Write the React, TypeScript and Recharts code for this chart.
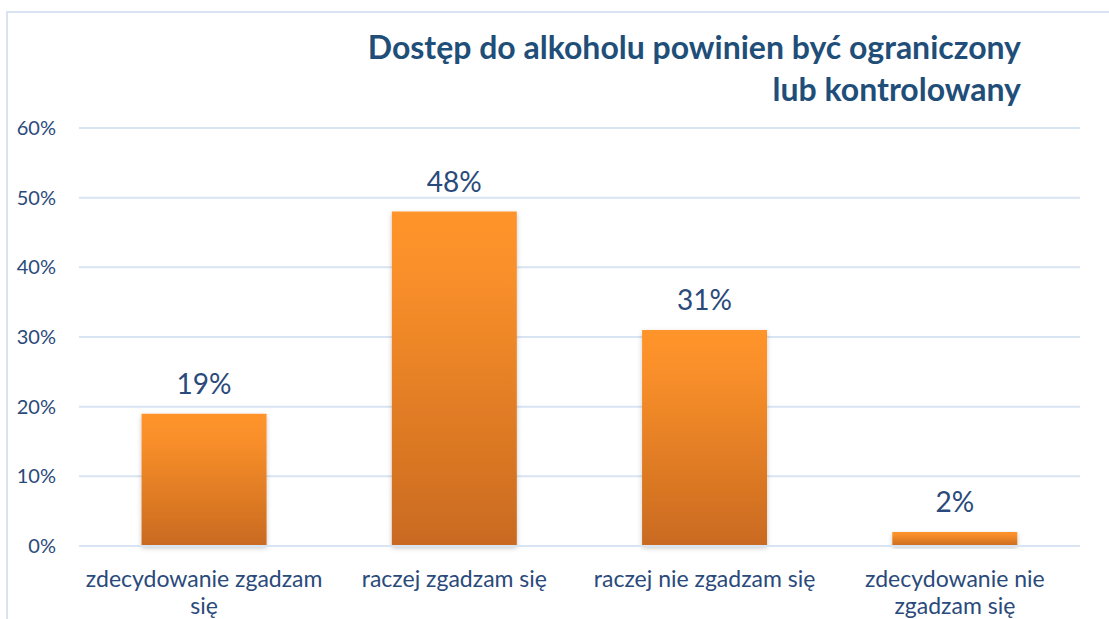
import React from "react";
import { BarChart, Bar, XAxis, YAxis, CartesianGrid, LabelList } from "recharts";

const categories = [
  "zdecydowanie zgadzam się",
  "raczej zgadzam się",
  "raczej nie zgadzam się",
  "zdecydowanie nie zgadzam się",
];
const values = [19, 48, 31, 2];
const yTicks = [0, 10, 20, 30, 40, 50, 60];
const titleLines = ["Dostęp do alkoholu powinien być ograniczony", "lub kontrolowany"];

const data = categories.map((c, i) => ({ name: c, value: values[i] }));

const FONT = "Lato, 'Noto Sans', sans-serif";
const TEXT = "#2A4A7B";
const GRID = "#D9E4F2";

function wrap(s: string, max: number): string[] {
  const words = s.split(" ");
  const lines: string[] = [];
  let cur = "";
  for (const w of words) {
    const next = cur ? cur + " " + w : w;
    if (next.length > max && cur) {
      lines.push(cur);
      cur = w;
    } else {
      cur = next;
    }
  }
  if (cur) lines.push(cur);
  return lines;
}

const XTick = (props: any) => {
  const { x, y, payload } = props;
  const lines = wrap(String(payload.value), 22);
  return (
    <text x={x} y={y} textAnchor="middle" fontSize={23} fontFamily={FONT} fill={TEXT}>
      {lines.map((l, i) => (
        <tspan key={i} x={x} dy={i === 0 ? 33 : 27}>
          {l}
        </tspan>
      ))}
    </text>
  );
};

export default function App() {
  return (
    <div style={{ position: "absolute", left: 0, top: 0, width: 1109, height: 619, background: "#fff", overflow: "hidden" }}>
      <div
        style={{
          position: "absolute",
          left: 6,
          top: 11,
          width: 1200,
          height: 700,
          borderLeft: `2px solid ${GRID}`,
          borderTop: `2px solid ${GRID}`,
        }}
      />
      <div
        style={{
          position: "absolute",
          right: 88,
          top: 26,
          textAlign: "right",
          fontFamily: FONT,
          fontWeight: 700,
          fontSize: 32,
          lineHeight: "42px",
          color: "#1F4E79",
          whiteSpace: "nowrap",
        }}
      >
        {titleLines.map((l, i) => (
          <div key={i}>{l}</div>
        ))}
      </div>
      <div style={{ position: "absolute", left: 0, top: 0 }}>
        <BarChart
          width={1109}
          height={619}
          data={data}
          margin={{ top: 128, right: 29, left: 0, bottom: 0 }}
          barCategoryGap="25%"
        >
          <defs>
            <linearGradient id="barGrad" x1="0" y1="0" x2="0" y2="1">
              <stop offset="0%" stopColor="#FF942C" />
              <stop offset="20%" stopColor="#F98F2A" />
              <stop offset="100%" stopColor="#C96A20" />
            </linearGradient>
            <filter id="shadow" x="-10%" y="-10%" width="120%" height="130%">
              <feDropShadow dx="0" dy="2" stdDeviation="2.5" floodColor="#000" floodOpacity="0.22" />
            </filter>
          </defs>
          <CartesianGrid vertical={false} stroke={GRID} strokeWidth={2} />
          <XAxis
            dataKey="name"
            height={73}
            tickLine={false}
            axisLine={{ stroke: GRID, strokeWidth: 2 }}
            tick={<XTick />}
            interval={0}
          />
          <YAxis
            width={79}
            domain={[0, 60]}
            ticks={yTicks}
            axisLine={false}
            tickLine={false}
            tickSize={0}
            tickMargin={23}
            tickFormatter={(v: number) => `${v}%`}
            tick={{ fontSize: 20, fontFamily: FONT, fill: TEXT }}
          />
          <Bar dataKey="value" fill="url(#barGrad)" filter="url(#shadow)" isAnimationActive={false}>
            <LabelList
              dataKey="value"
              position="top"
              offset={20}
              formatter={(v: any) => `${v}%`}
              style={{ fontSize: 28, fontFamily: FONT, fill: TEXT }}
            />
          </Bar>
        </BarChart>
      </div>
    </div>
  );
}
